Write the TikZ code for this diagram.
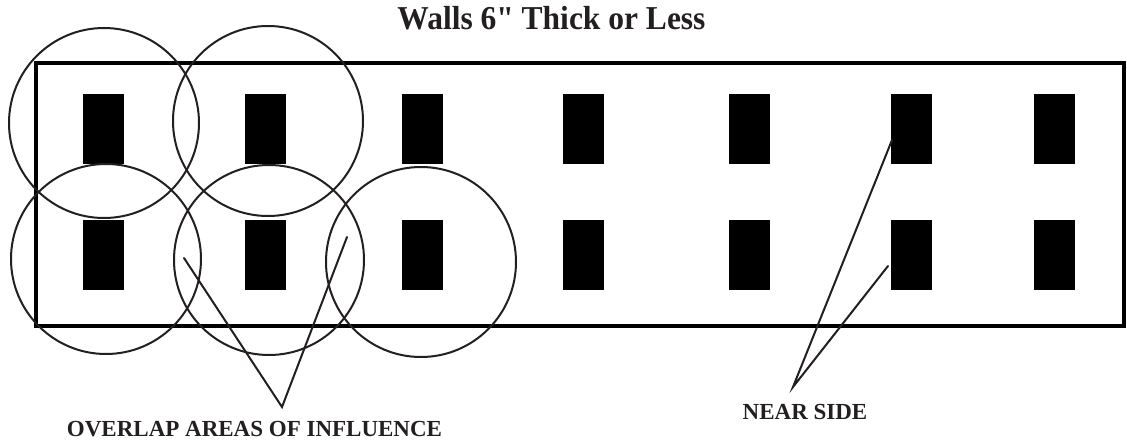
\documentclass[tikz,border=0pt]{standalone}
\usepackage{fontspec}
\setmainfont{Liberation Serif}[Ligatures=TeXOff]
\definecolor{ink}{HTML}{231F20}
\begin{document}
\begin{tikzpicture}[x=1pt,y=-1pt,
  pillar/.style={fill=black,draw=none,minimum width=41pt,minimum height=70pt,inner sep=0pt,outer sep=0pt},
  zone/.style={circle,draw=ink,line width=2pt,minimum size=190pt,inner sep=0pt},
  pointer/.style={draw=ink,line width=2pt,line cap=round,line join=miter},
  wall/.style={draw=black,line width=4pt},
  label/.style={text=ink,inner sep=0pt,anchor=base,font=\bfseries\fontsize{23}{23}\selectfont},
  heading/.style={text=ink,inner sep=0pt,anchor=base,font=\bfseries\fontsize{31.5}{31.5}\selectfont}]
\useasboundingbox (0,0) rectangle (1127,444);
% title
\node[heading] (title) at (551.5,29.5) {\scalebox{1}[1.06]{Walls 6" Thick or Less}};
% wall outline
\node[wall,minimum width=1088pt,minimum height=263pt,inner sep=0pt] (wall) at (580,194.5) {};
% pillars
\foreach \i/\x in {1/103.5,2/265,3/422,4/583.5,5/749.5,6/911,7/1054.5}{
  \node[pillar] (t\i) at (\x,129) {};
  \node[pillar] (b\i) at (\x,255) {};
}
% zones of influence
\node[zone] (z1) at (104,123) {};
\node[zone] (z2) at (268,121) {};
\node[zone] (z3) at (106,259) {};
\node[zone] (z4) at (269,260) {};
\node[zone] (z5) at (421,262) {};
% overlap pointers
\coordinate (ovA) at (184,258);
\coordinate (ovApex) at (282,407);
\coordinate (ovB) at (347,237);
\draw[pointer] (ovA) -- (ovApex) -- (ovB);
% near side pointers
\coordinate (nsA) at (892,140);
\coordinate (nsApex) at (793,387);
\coordinate (nsB) at (888,266);
\draw[pointer] (nsA) -- (nsApex) -- (nsB);
% labels
\node[label] (overlap) at (254.5,436) {OVERLAP AREAS OF INFLUENCE};
\node[label] (near) at (805,419) {NEAR SIDE};
\end{tikzpicture}
\end{document}
